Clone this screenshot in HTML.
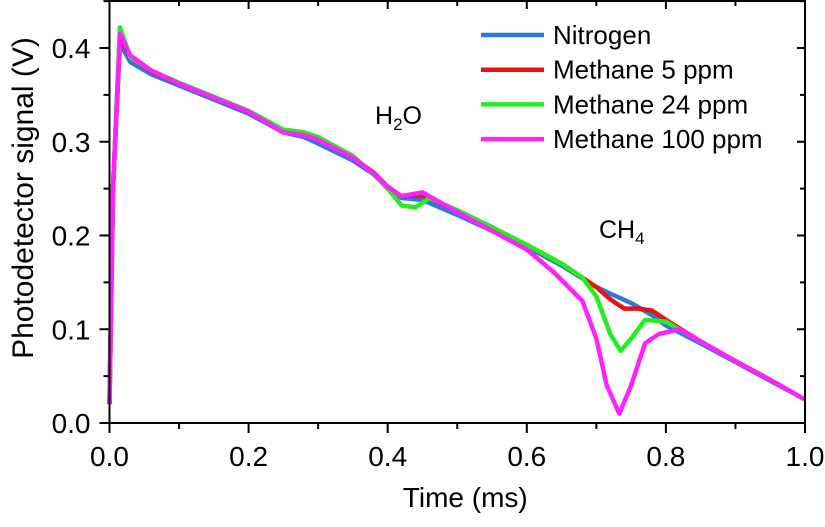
<!DOCTYPE html>
<html><head><meta charset="utf-8"><style>
body{margin:0;background:#fff}
svg text{font-family:"Liberation Sans",Arial,sans-serif;fill:#000}
</style></head><body>
<svg id="c" width="825" height="522"></svg>
<script>
const xTicks=[0,0.2,0.4,0.6,0.8,1.0];
const yTicks=[0,0.1,0.2,0.3,0.4];
const seriesNames=["Nitrogen","Methane 5 ppm","Methane 24 ppm","Methane 100 ppm"];
const seriesColors=["#2a78e0","#ee1111","#22ee22","#ff22ff"];
const tN2=[0,0.005,0.015,0.03,0.06,0.1,0.15,0.2,0.25,0.28,0.3,0.35,0.38,0.4,0.42,0.45,0.5,0.55,0.6,0.65,0.7,0.72,0.75,0.78,0.8,0.85,0.9,0.95,1.0];
const vN2=[0.02,0.25,0.405,0.385,0.372,0.36,0.345,0.33,0.31,0.305,0.298,0.28,0.265,0.25,0.24,0.238,0.222,0.205,0.188,0.168,0.145,0.138,0.128,0.115,0.104,0.085,0.065,0.045,0.025];
const t5=[0,0.005,0.015,0.03,0.06,0.1,0.15,0.2,0.25,0.28,0.3,0.35,0.38,0.4,0.42,0.45,0.5,0.55,0.6,0.65,0.7,0.72,0.74,0.76,0.78,0.8,0.85,0.9,0.95,1.0];
const v5=[0.02,0.25,0.412,0.39,0.375,0.362,0.347,0.332,0.312,0.308,0.302,0.283,0.267,0.252,0.242,0.243,0.226,0.208,0.19,0.17,0.145,0.132,0.122,0.122,0.12,0.11,0.087,0.066,0.046,0.025];
const t24=[0,0.005,0.015,0.03,0.06,0.1,0.15,0.2,0.25,0.28,0.3,0.35,0.38,0.4,0.42,0.44,0.46,0.5,0.55,0.6,0.65,0.68,0.7,0.72,0.735,0.75,0.77,0.8,0.85,0.9,0.95,1.0];
const v24=[0.02,0.25,0.422,0.39,0.376,0.363,0.348,0.333,0.313,0.31,0.305,0.285,0.265,0.25,0.232,0.23,0.24,0.227,0.209,0.19,0.17,0.155,0.135,0.095,0.077,0.09,0.11,0.108,0.087,0.066,0.046,0.025];
const t100=[0,0.005,0.015,0.03,0.06,0.1,0.15,0.2,0.25,0.28,0.3,0.35,0.38,0.4,0.42,0.45,0.5,0.55,0.6,0.64,0.68,0.7,0.715,0.733,0.75,0.77,0.79,0.82,0.85,0.9,0.95,1.0];
const v100=[0.02,0.25,0.415,0.392,0.376,0.362,0.347,0.332,0.31,0.307,0.302,0.283,0.266,0.252,0.242,0.246,0.225,0.205,0.185,0.16,0.13,0.09,0.04,0.01,0.04,0.085,0.095,0.1,0.087,0.066,0.046,0.025];
const T=[tN2,t5,t24,t100],V=[vN2,v5,v24,v100];
const L=109.5,R=805,B=423,TOP=1;
const X=t=>L+(R-L)*t, Y=v=>B-v*(B-48)/0.4;
const NS="http://www.w3.org/2000/svg",svg=document.getElementById("c");
function el(tag,a,txt){const e=document.createElementNS(NS,tag);for(const k in a)e.setAttribute(k,a[k]);if(txt!==undefined)e.textContent=txt;svg.appendChild(e);return e;}
for(let s=0;s<4;s++){
 const p=el("polyline",{points:T[s].map((t,i)=>X(t)+","+Y(V[s][i])).join(" "),fill:"none",stroke:seriesColors[s],"stroke-width":4.5,"stroke-linejoin":"round"});
 
 
}
const f=el("rect",{x:L,y:TOP,width:R-L,height:B-TOP,fill:"none",stroke:"#000","stroke-width":2});


xTicks.forEach(t=>{
 el("line",{x1:X(t),x2:X(t),y1:B,y2:B+10,stroke:"#000","stroke-width":2});
 el("line",{x1:X(t),x2:X(t),y1:TOP,y2:TOP+8,stroke:"#000","stroke-width":2});
 const tx=el("text",{x:X(t),y:B+43,"font-size":28,"text-anchor":"middle"},t.toFixed(1));
 
 
});
for(let i=0;i<5;i++){const t=0.1+0.2*i;el("line",{x1:X(t),x2:X(t),y1:B,y2:B+6,stroke:"#000","stroke-width":2});el("line",{x1:X(t),x2:X(t),y1:TOP,y2:TOP+5,stroke:"#000","stroke-width":2});}
yTicks.forEach(v=>{
 el("line",{x1:L-10,x2:L,y1:Y(v),y2:Y(v),stroke:"#000","stroke-width":2});
 el("line",{x1:R-8,x2:R,y1:Y(v),y2:Y(v),stroke:"#000","stroke-width":2});
 const tx=el("text",{x:L-19,y:Y(v)+10,"font-size":28,"text-anchor":"end"},v.toFixed(1));
 
 
});
for(let i=0;i<5;i++){const v=0.05+0.1*i;el("line",{x1:L-6,x2:L,y1:Y(v),y2:Y(v),stroke:"#000","stroke-width":2});el("line",{x1:R-5,x2:R,y1:Y(v),y2:Y(v),stroke:"#000","stroke-width":2});}
const xt=el("text",{x:X(0.5)+8,y:507,"font-size":28,"text-anchor":"middle"},"Time (ms)");


const yt=el("text",{x:0,y:0,"font-size":30,"text-anchor":"middle",transform:"translate(33,"+((B+TOP)/2-14)+") rotate(-90)"},"Photodetector signal (V)");


seriesNames.forEach((n,i)=>{
 const y=35+i*34.7;
 const ln=el("line",{x1:481,x2:544,y1:y,y2:y,stroke:seriesColors[i],"stroke-width":4.5});
 
 
 const tx=el("text",{x:553,y:y+9,"font-size":26},n);
 
 
});
const h=el("text",{x:375,y:124,"font-size":25});h.innerHTML='H<tspan font-size="17" dy="6">2</tspan><tspan dy="-6">O</tspan>';


const c=el("text",{x:599,y:238,"font-size":25});c.innerHTML='CH<tspan font-size="17" dy="6">4</tspan>';


</script>
</body></html>
